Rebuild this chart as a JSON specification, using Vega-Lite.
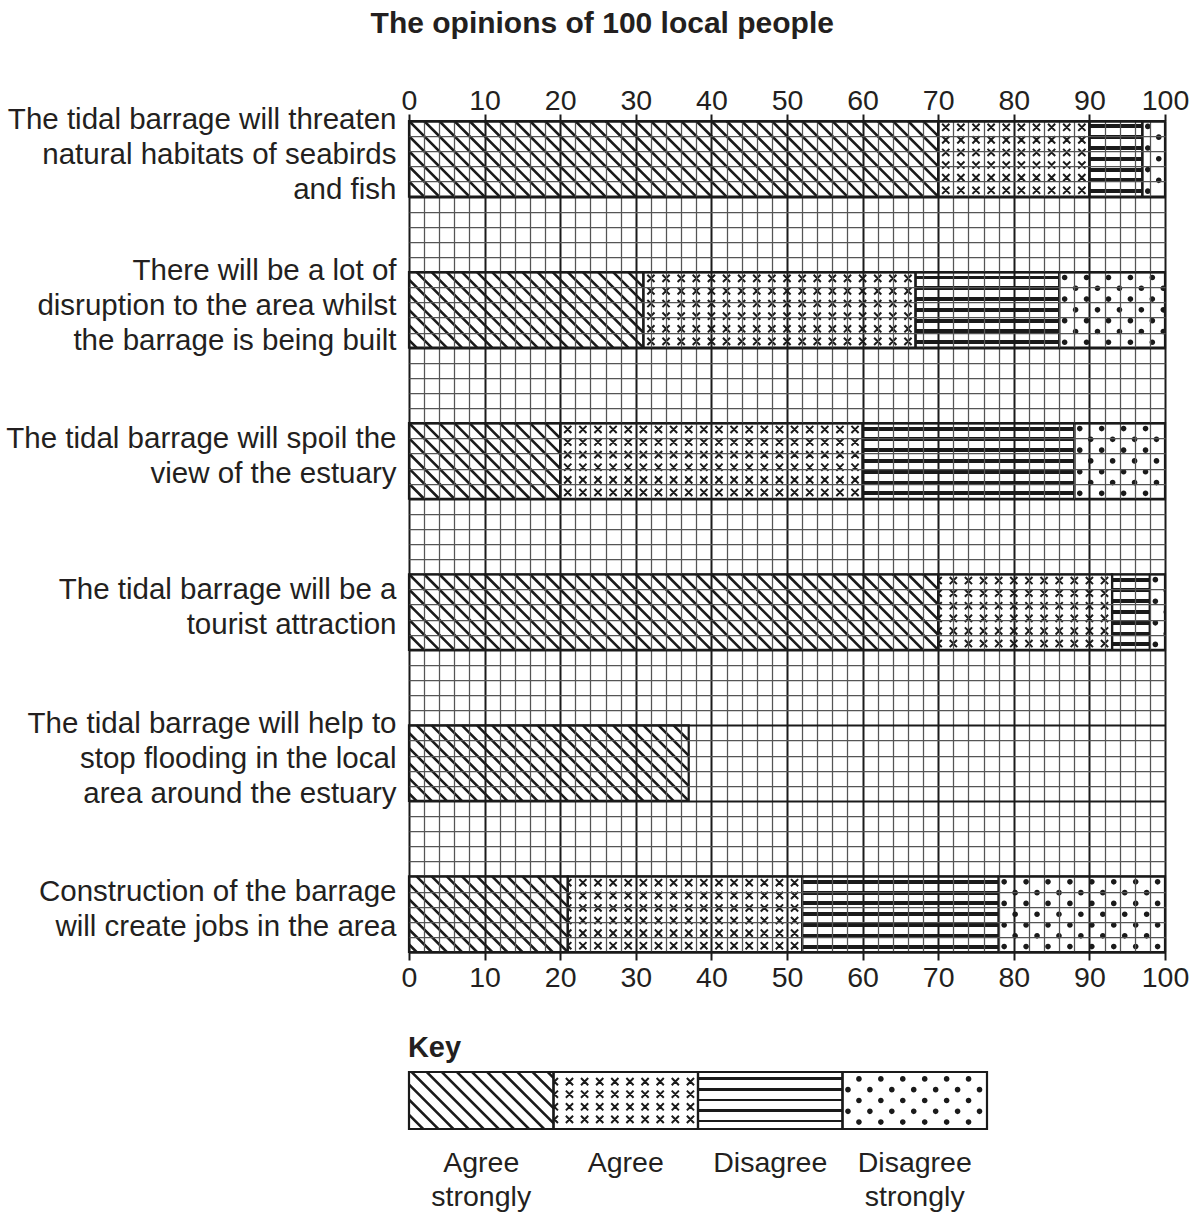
{
  "$schema": "https://vega.github.io/schema/vega-lite/v6.json",
  "padding": {"left": 5, "right": 5, "top": 8, "bottom": 0},
  "config": {
    "font": "Liberation Sans",
    "view": {"stroke": null},
    "title": {"color": "#231f20", "font": "Liberation Sans"},
    "axis": {"labelColor": "#231f20", "labelFont": "Liberation Sans"}
  },
  "title": {"text": "The opinions of 100 local people", "fontSize": 30, "fontWeight": "bold", "anchor": "middle", "offset": 48, "dx": 5},
  "spacing": 41,
  "vconcat": [
    {
      "width": 756,
      "height": 831,
      "data": {"values": [
        {"statement": "The tidal barrage will threaten|natural habitats of seabirds|and fish", "category": "Agree strongly", "value": 70},
        {"statement": "The tidal barrage will threaten|natural habitats of seabirds|and fish", "category": "Agree", "value": 20},
        {"statement": "The tidal barrage will threaten|natural habitats of seabirds|and fish", "category": "Disagree", "value": 7},
        {"statement": "The tidal barrage will threaten|natural habitats of seabirds|and fish", "category": "Disagree strongly", "value": 3},
        {"statement": "There will be a lot of|disruption to the area whilst|the barrage is being built", "category": "Agree strongly", "value": 31},
        {"statement": "There will be a lot of|disruption to the area whilst|the barrage is being built", "category": "Agree", "value": 36},
        {"statement": "There will be a lot of|disruption to the area whilst|the barrage is being built", "category": "Disagree", "value": 19},
        {"statement": "There will be a lot of|disruption to the area whilst|the barrage is being built", "category": "Disagree strongly", "value": 14},
        {"statement": "The tidal barrage will spoil the|view of the estuary", "category": "Agree strongly", "value": 20},
        {"statement": "The tidal barrage will spoil the|view of the estuary", "category": "Agree", "value": 40},
        {"statement": "The tidal barrage will spoil the|view of the estuary", "category": "Disagree", "value": 28},
        {"statement": "The tidal barrage will spoil the|view of the estuary", "category": "Disagree strongly", "value": 12},
        {"statement": "The tidal barrage will be a|tourist attraction", "category": "Agree strongly", "value": 70},
        {"statement": "The tidal barrage will be a|tourist attraction", "category": "Agree", "value": 23},
        {"statement": "The tidal barrage will be a|tourist attraction", "category": "Disagree", "value": 5},
        {"statement": "The tidal barrage will be a|tourist attraction", "category": "Disagree strongly", "value": 2},
        {"statement": "The tidal barrage will help to|stop flooding in the local|area around the estuary", "category": "Agree strongly", "value": 37},
        {"statement": "Construction of the barrage|will create jobs in the area", "category": "Agree strongly", "value": 21},
        {"statement": "Construction of the barrage|will create jobs in the area", "category": "Agree", "value": 31},
        {"statement": "Construction of the barrage|will create jobs in the area", "category": "Disagree", "value": 26},
        {"statement": "Construction of the barrage|will create jobs in the area", "category": "Disagree strongly", "value": 22}
      ]},
      "transform": [{"stack": "value", "groupby": ["statement"], "as": ["x0", "x1"]}],
      "layer": [
        {
          "encoding": {
            "y": {
              "field": "statement", "type": "nominal", "sort": null,
              "scale": {"paddingInner": 0.5, "paddingOuter": 0},
              "axis": {
                "title": null, "labelExpr": "split(datum.label, '|')", "labelFontSize": 29.5, "labelLimit": 450, "labelPadding": 13, "labelLineHeight": 35,
                "labelOffset": {"condition": {"test": "length(split(datum.label, '|')) === 3", "value": -39}, "value": -22},
                "ticks": false, "domain": false, "labelAlign": "right", "labelBaseline": "middle"
              }
            }
          },
          "layer": [
            {
              "mark": {"type": "rect", "fill": "white", "stroke": null},
              "encoding": {
                "x": {
                  "field": "x0", "type": "quantitative",
                  "scale": {"domain": [0, 100], "nice": false, "zero": true},
                  "axis": {
                    "orient": "bottom", "title": null,
                    "values": [0,2,4,6,8,10,12,14,16,18,20,22,24,26,28,30,32,34,36,38,40,42,44,46,48,50,52,54,56,58,60,62,64,66,68,70,72,74,76,78,80,82,84,86,88,90,92,94,96,98,100],
                    "grid": true,
                    "gridColor": {"condition": {"test": "datum.value % 10 === 0", "value": "#1a1a1a"}, "value": "#555555"},
                    "gridWidth": {"condition": {"test": "datum.value % 10 === 0", "value": 2}, "value": 1.25},
                    "labelExpr": "datum.value % 10 === 0 ? datum.label : ''",
                    "labelOverlap": false, "labelBound": false, "labelFlush": false,
                    "labelFontSize": 28.5, "labelPadding": 3,
                    "tickSize": 8, "tickWidth": 2, "tickColor": "#1a1a1a",
                    "tickOpacity": {"condition": {"test": "datum.value % 10 === 0", "value": 1}, "value": 0},
                    "domain": true, "domainColor": "#1a1a1a", "domainWidth": 2,
                    "zindex": 1
                  }
                },
                "x2": {"field": "x1"}
              }
            },
            {
              "transform": [{"filter": "datum.category === 'Agree'"}],
              "mark": {"type": "point", "shape": "M-2.95 -9.283l1.9 1.9m0 -1.9l-1.9 1.9m-4 -1.9l1.9 1.9m0 -1.9l-1.9 1.9m-4 -1.9l1.9 1.9m0 -1.9l-1.9 1.9m-4 -1.9l1.9 1.9m0 -1.9l-1.9 1.9m-4 -1.9l1.9 1.9m0 -1.9l-1.9 1.9m-4 -1.9l1.9 1.9m0 -1.9l-1.9 1.9m-4 -1.9l1.9 1.9m0 -1.9l-1.9 1.9m-4 -1.9l1.9 1.9m0 -1.9l-1.9 1.9m-4 -1.9l1.9 1.9m0 -1.9l-1.9 1.9m-4 -1.9l1.9 1.9m0 -1.9l-1.9 1.9m-4 -1.9l1.9 1.9m0 -1.9l-1.9 1.9m-4 -1.9l1.9 1.9m0 -1.9l-1.9 1.9m-4 -1.9l1.9 1.9m0 -1.9l-1.9 1.9m-4 -1.9l1.9 1.9m0 -1.9l-1.9 1.9m-4 -1.9l1.9 1.9m0 -1.9l-1.9 1.9m-4 -1.9l1.9 1.9m0 -1.9l-1.9 1.9m-4 -1.9l1.9 1.9m0 -1.9l-1.9 1.9m-4 -1.9l1.9 1.9m0 -1.9l-1.9 1.9m-4 -1.9l1.9 1.9m0 -1.9l-1.9 1.9m-4 -1.9l1.9 1.9m0 -1.9l-1.9 1.9m-4 -1.9M-2.95 -5.95l1.9 1.9m0 -1.9l-1.9 1.9m-4 -1.9l1.9 1.9m0 -1.9l-1.9 1.9m-4 -1.9l1.9 1.9m0 -1.9l-1.9 1.9m-4 -1.9l1.9 1.9m0 -1.9l-1.9 1.9m-4 -1.9l1.9 1.9m0 -1.9l-1.9 1.9m-4 -1.9l1.9 1.9m0 -1.9l-1.9 1.9m-4 -1.9l1.9 1.9m0 -1.9l-1.9 1.9m-4 -1.9l1.9 1.9m0 -1.9l-1.9 1.9m-4 -1.9l1.9 1.9m0 -1.9l-1.9 1.9m-4 -1.9l1.9 1.9m0 -1.9l-1.9 1.9m-4 -1.9l1.9 1.9m0 -1.9l-1.9 1.9m-4 -1.9l1.9 1.9m0 -1.9l-1.9 1.9m-4 -1.9l1.9 1.9m0 -1.9l-1.9 1.9m-4 -1.9l1.9 1.9m0 -1.9l-1.9 1.9m-4 -1.9l1.9 1.9m0 -1.9l-1.9 1.9m-4 -1.9l1.9 1.9m0 -1.9l-1.9 1.9m-4 -1.9l1.9 1.9m0 -1.9l-1.9 1.9m-4 -1.9l1.9 1.9m0 -1.9l-1.9 1.9m-4 -1.9l1.9 1.9m0 -1.9l-1.9 1.9m-4 -1.9l1.9 1.9m0 -1.9l-1.9 1.9m-4 -1.9M-2.95 -2.617l1.9 1.9m0 -1.9l-1.9 1.9m-4 -1.9l1.9 1.9m0 -1.9l-1.9 1.9m-4 -1.9l1.9 1.9m0 -1.9l-1.9 1.9m-4 -1.9l1.9 1.9m0 -1.9l-1.9 1.9m-4 -1.9l1.9 1.9m0 -1.9l-1.9 1.9m-4 -1.9l1.9 1.9m0 -1.9l-1.9 1.9m-4 -1.9l1.9 1.9m0 -1.9l-1.9 1.9m-4 -1.9l1.9 1.9m0 -1.9l-1.9 1.9m-4 -1.9l1.9 1.9m0 -1.9l-1.9 1.9m-4 -1.9l1.9 1.9m0 -1.9l-1.9 1.9m-4 -1.9l1.9 1.9m0 -1.9l-1.9 1.9m-4 -1.9l1.9 1.9m0 -1.9l-1.9 1.9m-4 -1.9l1.9 1.9m0 -1.9l-1.9 1.9m-4 -1.9l1.9 1.9m0 -1.9l-1.9 1.9m-4 -1.9l1.9 1.9m0 -1.9l-1.9 1.9m-4 -1.9l1.9 1.9m0 -1.9l-1.9 1.9m-4 -1.9l1.9 1.9m0 -1.9l-1.9 1.9m-4 -1.9l1.9 1.9m0 -1.9l-1.9 1.9m-4 -1.9l1.9 1.9m0 -1.9l-1.9 1.9m-4 -1.9l1.9 1.9m0 -1.9l-1.9 1.9m-4 -1.9M-2.95 0.717l1.9 1.9m0 -1.9l-1.9 1.9m-4 -1.9l1.9 1.9m0 -1.9l-1.9 1.9m-4 -1.9l1.9 1.9m0 -1.9l-1.9 1.9m-4 -1.9l1.9 1.9m0 -1.9l-1.9 1.9m-4 -1.9l1.9 1.9m0 -1.9l-1.9 1.9m-4 -1.9l1.9 1.9m0 -1.9l-1.9 1.9m-4 -1.9l1.9 1.9m0 -1.9l-1.9 1.9m-4 -1.9l1.9 1.9m0 -1.9l-1.9 1.9m-4 -1.9l1.9 1.9m0 -1.9l-1.9 1.9m-4 -1.9l1.9 1.9m0 -1.9l-1.9 1.9m-4 -1.9l1.9 1.9m0 -1.9l-1.9 1.9m-4 -1.9l1.9 1.9m0 -1.9l-1.9 1.9m-4 -1.9l1.9 1.9m0 -1.9l-1.9 1.9m-4 -1.9l1.9 1.9m0 -1.9l-1.9 1.9m-4 -1.9l1.9 1.9m0 -1.9l-1.9 1.9m-4 -1.9l1.9 1.9m0 -1.9l-1.9 1.9m-4 -1.9l1.9 1.9m0 -1.9l-1.9 1.9m-4 -1.9l1.9 1.9m0 -1.9l-1.9 1.9m-4 -1.9l1.9 1.9m0 -1.9l-1.9 1.9m-4 -1.9l1.9 1.9m0 -1.9l-1.9 1.9m-4 -1.9M-2.95 4.05l1.9 1.9m0 -1.9l-1.9 1.9m-4 -1.9l1.9 1.9m0 -1.9l-1.9 1.9m-4 -1.9l1.9 1.9m0 -1.9l-1.9 1.9m-4 -1.9l1.9 1.9m0 -1.9l-1.9 1.9m-4 -1.9l1.9 1.9m0 -1.9l-1.9 1.9m-4 -1.9l1.9 1.9m0 -1.9l-1.9 1.9m-4 -1.9l1.9 1.9m0 -1.9l-1.9 1.9m-4 -1.9l1.9 1.9m0 -1.9l-1.9 1.9m-4 -1.9l1.9 1.9m0 -1.9l-1.9 1.9m-4 -1.9l1.9 1.9m0 -1.9l-1.9 1.9m-4 -1.9l1.9 1.9m0 -1.9l-1.9 1.9m-4 -1.9l1.9 1.9m0 -1.9l-1.9 1.9m-4 -1.9l1.9 1.9m0 -1.9l-1.9 1.9m-4 -1.9l1.9 1.9m0 -1.9l-1.9 1.9m-4 -1.9l1.9 1.9m0 -1.9l-1.9 1.9m-4 -1.9l1.9 1.9m0 -1.9l-1.9 1.9m-4 -1.9l1.9 1.9m0 -1.9l-1.9 1.9m-4 -1.9l1.9 1.9m0 -1.9l-1.9 1.9m-4 -1.9l1.9 1.9m0 -1.9l-1.9 1.9m-4 -1.9l1.9 1.9m0 -1.9l-1.9 1.9m-4 -1.9M-2.95 7.383l1.9 1.9m0 -1.9l-1.9 1.9m-4 -1.9l1.9 1.9m0 -1.9l-1.9 1.9m-4 -1.9l1.9 1.9m0 -1.9l-1.9 1.9m-4 -1.9l1.9 1.9m0 -1.9l-1.9 1.9m-4 -1.9l1.9 1.9m0 -1.9l-1.9 1.9m-4 -1.9l1.9 1.9m0 -1.9l-1.9 1.9m-4 -1.9l1.9 1.9m0 -1.9l-1.9 1.9m-4 -1.9l1.9 1.9m0 -1.9l-1.9 1.9m-4 -1.9l1.9 1.9m0 -1.9l-1.9 1.9m-4 -1.9l1.9 1.9m0 -1.9l-1.9 1.9m-4 -1.9l1.9 1.9m0 -1.9l-1.9 1.9m-4 -1.9l1.9 1.9m0 -1.9l-1.9 1.9m-4 -1.9l1.9 1.9m0 -1.9l-1.9 1.9m-4 -1.9l1.9 1.9m0 -1.9l-1.9 1.9m-4 -1.9l1.9 1.9m0 -1.9l-1.9 1.9m-4 -1.9l1.9 1.9m0 -1.9l-1.9 1.9m-4 -1.9l1.9 1.9m0 -1.9l-1.9 1.9m-4 -1.9l1.9 1.9m0 -1.9l-1.9 1.9m-4 -1.9l1.9 1.9m0 -1.9l-1.9 1.9m-4 -1.9l1.9 1.9m0 -1.9l-1.9 1.9m-4 -1.9", "size": 57.15, "filled": false, "stroke": "#1a1a1a", "strokeWidth": 2, "opacity": 1, "clip": true},
              "encoding": {"x": {"field": "x1", "type": "quantitative", "axis": null}}
            },
            {
              "transform": [{"filter": "datum.category === 'Agree strongly'"}],
              "mark": {"type": "rect", "fill": "white", "stroke": null},
              "encoding": {"x": {"field": "x0", "type": "quantitative", "axis": null}, "x2": {"field": "x1"}}
            },
            {
              "transform": [{"filter": "datum.category === 'Agree strongly'"}],
              "mark": {"type": "point", "shape": "M-4 -10l4 4M-8 -10l8 8M-12 -10l12 12M-16 -10l16 16M-20 -10l20 20M-24 -10l20 20M-28 -10l20 20M-32 -10l20 20M-36 -10l20 20M-40 -10l20 20M-44 -10l20 20M-48 -10l20 20M-52 -10l20 20M-56 -10l20 20M-60 -10l20 20M-64 -10l20 20M-68 -10l20 20M-72 -10l20 20M-76 -10l20 20M-80 -10l20 20M-84 -10l20 20M-88 -10l20 20M-92 -10l20 20M-96 -10l20 20M-100 -10l20 20M-104 -10l20 20M-108 -10l20 20M-112 -10l20 20M-116 -10l20 20M-120 -10l20 20M-124 -10l20 20M-128 -10l20 20M-132 -10l20 20M-136 -10l20 20M-140 -10l20 20M-144 -10l20 20M-148 -10l20 20M-152 -10l20 20M-156 -10l20 20M-160 -10l20 20M-164 -10l20 20M-168 -10l20 20", "size": 57.15, "filled": false, "stroke": "#1a1a1a", "strokeWidth": 2.6, "opacity": 1, "clip": true},
              "encoding": {"x": {"field": "x1", "type": "quantitative", "axis": null}}
            },
            {
              "transform": [{"filter": "datum.category === 'Disagree'"}],
              "mark": {"type": "rect", "stroke": null, "fill": {"gradient": "linear", "x1": 0, "y1": 0, "x2": 0, "y2": 1, "stops": [
                {"offset": 0, "color": "white"},
                {"offset": 0.0454, "color": "white"}, {"offset": 0.0454, "color": "#1a1a1a"}, {"offset": 0.0974, "color": "#1a1a1a"}, {"offset": 0.0974, "color": "white"},
                {"offset": 0.1883, "color": "white"}, {"offset": 0.1883, "color": "#1a1a1a"}, {"offset": 0.2403, "color": "#1a1a1a"}, {"offset": 0.2403, "color": "white"},
                {"offset": 0.3311, "color": "white"}, {"offset": 0.3311, "color": "#1a1a1a"}, {"offset": 0.3831, "color": "#1a1a1a"}, {"offset": 0.3831, "color": "white"},
                {"offset": 0.474, "color": "white"}, {"offset": 0.474, "color": "#1a1a1a"}, {"offset": 0.526, "color": "#1a1a1a"}, {"offset": 0.526, "color": "white"},
                {"offset": 0.6169, "color": "white"}, {"offset": 0.6169, "color": "#1a1a1a"}, {"offset": 0.6689, "color": "#1a1a1a"}, {"offset": 0.6689, "color": "white"},
                {"offset": 0.7597, "color": "white"}, {"offset": 0.7597, "color": "#1a1a1a"}, {"offset": 0.8117, "color": "#1a1a1a"}, {"offset": 0.8117, "color": "white"},
                {"offset": 0.9026, "color": "white"}, {"offset": 0.9026, "color": "#1a1a1a"}, {"offset": 0.9546, "color": "#1a1a1a"}, {"offset": 0.9546, "color": "white"},
                {"offset": 1, "color": "white"}
              ]}},
              "encoding": {"x": {"field": "x0", "type": "quantitative", "axis": null}, "x2": {"field": "x1"}}
            },
            {
              "transform": [{"filter": "datum.category === 'Disagree strongly'"}],
              "mark": {"type": "point", "shape": "M0.7 -8.571a0.75 0.75 0 1 0 1.5 0a0.75 0.75 0 1 0 -1.5 0m5.8 0a0.75 0.75 0 1 0 1.5 0a0.75 0.75 0 1 0 -1.5 0m5.8 0a0.75 0.75 0 1 0 1.5 0a0.75 0.75 0 1 0 -1.5 0m5.8 0a0.75 0.75 0 1 0 1.5 0a0.75 0.75 0 1 0 -1.5 0m5.8 0a0.75 0.75 0 1 0 1.5 0a0.75 0.75 0 1 0 -1.5 0m5.8 0a0.75 0.75 0 1 0 1.5 0a0.75 0.75 0 1 0 -1.5 0m5.8 0a0.75 0.75 0 1 0 1.5 0a0.75 0.75 0 1 0 -1.5 0m5.8 0a0.75 0.75 0 1 0 1.5 0a0.75 0.75 0 1 0 -1.5 0m5.8 0a0.75 0.75 0 1 0 1.5 0a0.75 0.75 0 1 0 -1.5 0m5.8 0M3.6 -5.714a0.75 0.75 0 1 0 1.5 0a0.75 0.75 0 1 0 -1.5 0m5.8 0a0.75 0.75 0 1 0 1.5 0a0.75 0.75 0 1 0 -1.5 0m5.8 0a0.75 0.75 0 1 0 1.5 0a0.75 0.75 0 1 0 -1.5 0m5.8 0a0.75 0.75 0 1 0 1.5 0a0.75 0.75 0 1 0 -1.5 0m5.8 0a0.75 0.75 0 1 0 1.5 0a0.75 0.75 0 1 0 -1.5 0m5.8 0a0.75 0.75 0 1 0 1.5 0a0.75 0.75 0 1 0 -1.5 0m5.8 0a0.75 0.75 0 1 0 1.5 0a0.75 0.75 0 1 0 -1.5 0m5.8 0a0.75 0.75 0 1 0 1.5 0a0.75 0.75 0 1 0 -1.5 0m5.8 0a0.75 0.75 0 1 0 1.5 0a0.75 0.75 0 1 0 -1.5 0m5.8 0M0.7 -2.857a0.75 0.75 0 1 0 1.5 0a0.75 0.75 0 1 0 -1.5 0m5.8 0a0.75 0.75 0 1 0 1.5 0a0.75 0.75 0 1 0 -1.5 0m5.8 0a0.75 0.75 0 1 0 1.5 0a0.75 0.75 0 1 0 -1.5 0m5.8 0a0.75 0.75 0 1 0 1.5 0a0.75 0.75 0 1 0 -1.5 0m5.8 0a0.75 0.75 0 1 0 1.5 0a0.75 0.75 0 1 0 -1.5 0m5.8 0a0.75 0.75 0 1 0 1.5 0a0.75 0.75 0 1 0 -1.5 0m5.8 0a0.75 0.75 0 1 0 1.5 0a0.75 0.75 0 1 0 -1.5 0m5.8 0a0.75 0.75 0 1 0 1.5 0a0.75 0.75 0 1 0 -1.5 0m5.8 0a0.75 0.75 0 1 0 1.5 0a0.75 0.75 0 1 0 -1.5 0m5.8 0M3.6 0a0.75 0.75 0 1 0 1.5 0a0.75 0.75 0 1 0 -1.5 0m5.8 0a0.75 0.75 0 1 0 1.5 0a0.75 0.75 0 1 0 -1.5 0m5.8 0a0.75 0.75 0 1 0 1.5 0a0.75 0.75 0 1 0 -1.5 0m5.8 0a0.75 0.75 0 1 0 1.5 0a0.75 0.75 0 1 0 -1.5 0m5.8 0a0.75 0.75 0 1 0 1.5 0a0.75 0.75 0 1 0 -1.5 0m5.8 0a0.75 0.75 0 1 0 1.5 0a0.75 0.75 0 1 0 -1.5 0m5.8 0a0.75 0.75 0 1 0 1.5 0a0.75 0.75 0 1 0 -1.5 0m5.8 0a0.75 0.75 0 1 0 1.5 0a0.75 0.75 0 1 0 -1.5 0m5.8 0a0.75 0.75 0 1 0 1.5 0a0.75 0.75 0 1 0 -1.5 0m5.8 0M0.7 2.857a0.75 0.75 0 1 0 1.5 0a0.75 0.75 0 1 0 -1.5 0m5.8 0a0.75 0.75 0 1 0 1.5 0a0.75 0.75 0 1 0 -1.5 0m5.8 0a0.75 0.75 0 1 0 1.5 0a0.75 0.75 0 1 0 -1.5 0m5.8 0a0.75 0.75 0 1 0 1.5 0a0.75 0.75 0 1 0 -1.5 0m5.8 0a0.75 0.75 0 1 0 1.5 0a0.75 0.75 0 1 0 -1.5 0m5.8 0a0.75 0.75 0 1 0 1.5 0a0.75 0.75 0 1 0 -1.5 0m5.8 0a0.75 0.75 0 1 0 1.5 0a0.75 0.75 0 1 0 -1.5 0m5.8 0a0.75 0.75 0 1 0 1.5 0a0.75 0.75 0 1 0 -1.5 0m5.8 0a0.75 0.75 0 1 0 1.5 0a0.75 0.75 0 1 0 -1.5 0m5.8 0M3.6 5.714a0.75 0.75 0 1 0 1.5 0a0.75 0.75 0 1 0 -1.5 0m5.8 0a0.75 0.75 0 1 0 1.5 0a0.75 0.75 0 1 0 -1.5 0m5.8 0a0.75 0.75 0 1 0 1.5 0a0.75 0.75 0 1 0 -1.5 0m5.8 0a0.75 0.75 0 1 0 1.5 0a0.75 0.75 0 1 0 -1.5 0m5.8 0a0.75 0.75 0 1 0 1.5 0a0.75 0.75 0 1 0 -1.5 0m5.8 0a0.75 0.75 0 1 0 1.5 0a0.75 0.75 0 1 0 -1.5 0m5.8 0a0.75 0.75 0 1 0 1.5 0a0.75 0.75 0 1 0 -1.5 0m5.8 0a0.75 0.75 0 1 0 1.5 0a0.75 0.75 0 1 0 -1.5 0m5.8 0a0.75 0.75 0 1 0 1.5 0a0.75 0.75 0 1 0 -1.5 0m5.8 0M0.7 8.571a0.75 0.75 0 1 0 1.5 0a0.75 0.75 0 1 0 -1.5 0m5.8 0a0.75 0.75 0 1 0 1.5 0a0.75 0.75 0 1 0 -1.5 0m5.8 0a0.75 0.75 0 1 0 1.5 0a0.75 0.75 0 1 0 -1.5 0m5.8 0a0.75 0.75 0 1 0 1.5 0a0.75 0.75 0 1 0 -1.5 0m5.8 0a0.75 0.75 0 1 0 1.5 0a0.75 0.75 0 1 0 -1.5 0m5.8 0a0.75 0.75 0 1 0 1.5 0a0.75 0.75 0 1 0 -1.5 0m5.8 0a0.75 0.75 0 1 0 1.5 0a0.75 0.75 0 1 0 -1.5 0m5.8 0a0.75 0.75 0 1 0 1.5 0a0.75 0.75 0 1 0 -1.5 0m5.8 0a0.75 0.75 0 1 0 1.5 0a0.75 0.75 0 1 0 -1.5 0m5.8 0", "size": 57.15, "filled": true, "fill": "#1a1a1a", "strokeWidth": 0, "opacity": 1, "clip": true},
              "encoding": {"x": {"field": "x0", "type": "quantitative", "axis": null}}
            },
            {
              "mark": {"type": "rect", "fill": "white", "fillOpacity": 0, "stroke": "#1a1a1a", "strokeWidth": 2.2},
              "encoding": {
                "x": {
                  "field": "x0", "type": "quantitative",
                  "axis": {
                    "orient": "top", "title": null,
                    "values": [0,10,20,30,40,50,60,70,80,90,100],
                    "grid": false, "labelOverlap": false, "labelFlush": false, "labelBound": false,
                    "labelFontSize": 28.5, "labelPadding": -1.5,
                    "tickSize": 7, "tickWidth": 2, "tickColor": "#1a1a1a",
                    "domain": true, "domainColor": "#1a1a1a", "domainWidth": 2,
                    "zindex": 1
                  }
                },
                "x2": {"field": "x1"}
              }
            }
          ],
          "resolve": {"axis": {"x": "independent"}}
        },
        {
          "mark": {"type": "rule", "strokeOpacity": 0},
          "encoding": {
            "y": {
              "datum": 0, "type": "quantitative",
              "scale": {"domain": [0, 55], "nice": false, "zero": false},
              "axis": {
                "orient": "right", "title": null, "labels": false, "ticks": false, "domain": false,
                "values": [0,1,2,3,4,5,6,7,8,9,10,11,12,13,14,15,16,17,18,19,20,21,22,23,24,25,26,27,28,29,30,31,32,33,34,35,36,37,38,39,40,41,42,43,44,45,46,47,48,49,50,51,52,53,54,55],
                "grid": true,
                "gridColor": {"condition": {"test": "datum.value % 5 === 0", "value": "#1a1a1a"}, "value": "#555555"},
                "gridWidth": {"condition": {"test": "datum.value % 5 === 0", "value": 2}, "value": 1.25},
                "zindex": 1
              }
            }
          }
        }
      ],
      "resolve": {"scale": {"y": "independent"}}
    },
    {
      "spacing": 18,
      "vconcat": [
        {
          "width": 578,
          "height": 57,
          "title": {"text": "Key", "anchor": "start", "fontSize": 29, "fontWeight": "bold", "offset": 8},
          "data": {"values": [
            {"category": "Agree strongly"},
            {"category": "Agree"},
            {"category": "Disagree"},
            {"category": "Disagree strongly"}
          ]},
          "encoding": {
            "x": {
              "field": "category", "type": "nominal", "sort": null,
              "scale": {"type": "band", "paddingInner": 0, "paddingOuter": 0},
              "axis": null
            }
          },
          "layer": [
            {
              "mark": {"type": "rect", "fill": "white", "stroke": null}
            },
            {
              "transform": [{"filter": "datum.category === 'Agree'"}],
              "mark": {"type": "point", "shape": "M-2.95 -5.95l1.9 1.9m0 -1.9l-1.9 1.9m-4 -1.9l1.9 1.9m0 -1.9l-1.9 1.9m-4 -1.9l1.9 1.9m0 -1.9l-1.9 1.9m-4 -1.9l1.9 1.9m0 -1.9l-1.9 1.9m-4 -1.9l1.9 1.9m0 -1.9l-1.9 1.9m-4 -1.9l1.9 1.9m0 -1.9l-1.9 1.9m-4 -1.9l1.9 1.9m0 -1.9l-1.9 1.9m-4 -1.9l1.9 1.9m0 -1.9l-1.9 1.9m-4 -1.9l1.9 1.9m0 -1.9l-1.9 1.9m-4 -1.9l1.9 1.9m0 -1.9l-1.9 1.9m-4 -1.9M-2.95 -2.617l1.9 1.9m0 -1.9l-1.9 1.9m-4 -1.9l1.9 1.9m0 -1.9l-1.9 1.9m-4 -1.9l1.9 1.9m0 -1.9l-1.9 1.9m-4 -1.9l1.9 1.9m0 -1.9l-1.9 1.9m-4 -1.9l1.9 1.9m0 -1.9l-1.9 1.9m-4 -1.9l1.9 1.9m0 -1.9l-1.9 1.9m-4 -1.9l1.9 1.9m0 -1.9l-1.9 1.9m-4 -1.9l1.9 1.9m0 -1.9l-1.9 1.9m-4 -1.9l1.9 1.9m0 -1.9l-1.9 1.9m-4 -1.9l1.9 1.9m0 -1.9l-1.9 1.9m-4 -1.9M-2.95 0.717l1.9 1.9m0 -1.9l-1.9 1.9m-4 -1.9l1.9 1.9m0 -1.9l-1.9 1.9m-4 -1.9l1.9 1.9m0 -1.9l-1.9 1.9m-4 -1.9l1.9 1.9m0 -1.9l-1.9 1.9m-4 -1.9l1.9 1.9m0 -1.9l-1.9 1.9m-4 -1.9l1.9 1.9m0 -1.9l-1.9 1.9m-4 -1.9l1.9 1.9m0 -1.9l-1.9 1.9m-4 -1.9l1.9 1.9m0 -1.9l-1.9 1.9m-4 -1.9l1.9 1.9m0 -1.9l-1.9 1.9m-4 -1.9l1.9 1.9m0 -1.9l-1.9 1.9m-4 -1.9M-2.95 4.05l1.9 1.9m0 -1.9l-1.9 1.9m-4 -1.9l1.9 1.9m0 -1.9l-1.9 1.9m-4 -1.9l1.9 1.9m0 -1.9l-1.9 1.9m-4 -1.9l1.9 1.9m0 -1.9l-1.9 1.9m-4 -1.9l1.9 1.9m0 -1.9l-1.9 1.9m-4 -1.9l1.9 1.9m0 -1.9l-1.9 1.9m-4 -1.9l1.9 1.9m0 -1.9l-1.9 1.9m-4 -1.9l1.9 1.9m0 -1.9l-1.9 1.9m-4 -1.9l1.9 1.9m0 -1.9l-1.9 1.9m-4 -1.9l1.9 1.9m0 -1.9l-1.9 1.9m-4 -1.9", "size": 57.15, "filled": false, "stroke": "#1a1a1a", "strokeWidth": 2, "opacity": 1, "clip": true},
              "encoding": {"x": {"field": "category", "type": "nominal", "sort": null, "bandPosition": 1, "axis": null}}
            },
            {
              "transform": [{"filter": "datum.category === 'Agree strongly'"}],
              "mark": {"type": "rect", "fill": "white", "stroke": null}
            },
            {
              "transform": [{"filter": "datum.category === 'Agree strongly'"}],
              "mark": {"type": "point", "shape": "M-4 -10l4 4M-8 -10l8 8M-12 -10l12 12M-16 -10l16 16M-20 -10l20 20M-24 -10l20 20M-28 -10l20 20M-32 -10l20 20M-36 -10l20 20M-40 -10l20 20M-44 -10l20 20M-48 -10l20 20M-52 -10l20 20M-56 -10l20 20", "size": 57.15, "filled": false, "stroke": "#1a1a1a", "strokeWidth": 2.6, "opacity": 1, "clip": true},
              "encoding": {"x": {"field": "category", "type": "nominal", "sort": null, "bandPosition": 1, "axis": null}}
            },
            {
              "transform": [{"filter": "datum.category === 'Disagree'"}],
              "mark": {"type": "rect", "stroke": null, "fill": {"gradient": "linear", "x1": 0, "y1": 0, "x2": 0, "y2": 1, "stops": [
                {"offset": 0, "color": "white"},
                {"offset": 0.095, "color": "white"}, {"offset": 0.095, "color": "#1a1a1a"}, {"offset": 0.145, "color": "#1a1a1a"}, {"offset": 0.145, "color": "white"},
                {"offset": 0.28, "color": "white"}, {"offset": 0.28, "color": "#1a1a1a"}, {"offset": 0.33, "color": "#1a1a1a"}, {"offset": 0.33, "color": "white"},
                {"offset": 0.465, "color": "white"}, {"offset": 0.465, "color": "#1a1a1a"}, {"offset": 0.515, "color": "#1a1a1a"}, {"offset": 0.515, "color": "white"},
                {"offset": 0.65, "color": "white"}, {"offset": 0.65, "color": "#1a1a1a"}, {"offset": 0.7, "color": "#1a1a1a"}, {"offset": 0.7, "color": "white"},
                {"offset": 0.835, "color": "white"}, {"offset": 0.835, "color": "#1a1a1a"}, {"offset": 0.885, "color": "#1a1a1a"}, {"offset": 0.885, "color": "white"},
                {"offset": 1, "color": "white"}
              ]}}
            },
            {
              "transform": [{"filter": "datum.category === 'Disagree strongly'"}],
              "mark": {"type": "point", "shape": "M3.6 -5.714a0.75 0.75 0 1 0 1.5 0a0.75 0.75 0 1 0 -1.5 0m5.8 0a0.75 0.75 0 1 0 1.5 0a0.75 0.75 0 1 0 -1.5 0m5.8 0a0.75 0.75 0 1 0 1.5 0a0.75 0.75 0 1 0 -1.5 0m5.8 0a0.75 0.75 0 1 0 1.5 0a0.75 0.75 0 1 0 -1.5 0m5.8 0a0.75 0.75 0 1 0 1.5 0a0.75 0.75 0 1 0 -1.5 0m5.8 0a0.75 0.75 0 1 0 1.5 0a0.75 0.75 0 1 0 -1.5 0m5.8 0a0.75 0.75 0 1 0 1.5 0a0.75 0.75 0 1 0 -1.5 0m5.8 0M0.7 -2.857a0.75 0.75 0 1 0 1.5 0a0.75 0.75 0 1 0 -1.5 0m5.8 0a0.75 0.75 0 1 0 1.5 0a0.75 0.75 0 1 0 -1.5 0m5.8 0a0.75 0.75 0 1 0 1.5 0a0.75 0.75 0 1 0 -1.5 0m5.8 0a0.75 0.75 0 1 0 1.5 0a0.75 0.75 0 1 0 -1.5 0m5.8 0a0.75 0.75 0 1 0 1.5 0a0.75 0.75 0 1 0 -1.5 0m5.8 0a0.75 0.75 0 1 0 1.5 0a0.75 0.75 0 1 0 -1.5 0m5.8 0a0.75 0.75 0 1 0 1.5 0a0.75 0.75 0 1 0 -1.5 0m5.8 0M3.6 0a0.75 0.75 0 1 0 1.5 0a0.75 0.75 0 1 0 -1.5 0m5.8 0a0.75 0.75 0 1 0 1.5 0a0.75 0.75 0 1 0 -1.5 0m5.8 0a0.75 0.75 0 1 0 1.5 0a0.75 0.75 0 1 0 -1.5 0m5.8 0a0.75 0.75 0 1 0 1.5 0a0.75 0.75 0 1 0 -1.5 0m5.8 0a0.75 0.75 0 1 0 1.5 0a0.75 0.75 0 1 0 -1.5 0m5.8 0a0.75 0.75 0 1 0 1.5 0a0.75 0.75 0 1 0 -1.5 0m5.8 0a0.75 0.75 0 1 0 1.5 0a0.75 0.75 0 1 0 -1.5 0m5.8 0M0.7 2.857a0.75 0.75 0 1 0 1.5 0a0.75 0.75 0 1 0 -1.5 0m5.8 0a0.75 0.75 0 1 0 1.5 0a0.75 0.75 0 1 0 -1.5 0m5.8 0a0.75 0.75 0 1 0 1.5 0a0.75 0.75 0 1 0 -1.5 0m5.8 0a0.75 0.75 0 1 0 1.5 0a0.75 0.75 0 1 0 -1.5 0m5.8 0a0.75 0.75 0 1 0 1.5 0a0.75 0.75 0 1 0 -1.5 0m5.8 0a0.75 0.75 0 1 0 1.5 0a0.75 0.75 0 1 0 -1.5 0m5.8 0a0.75 0.75 0 1 0 1.5 0a0.75 0.75 0 1 0 -1.5 0m5.8 0M3.6 5.714a0.75 0.75 0 1 0 1.5 0a0.75 0.75 0 1 0 -1.5 0m5.8 0a0.75 0.75 0 1 0 1.5 0a0.75 0.75 0 1 0 -1.5 0m5.8 0a0.75 0.75 0 1 0 1.5 0a0.75 0.75 0 1 0 -1.5 0m5.8 0a0.75 0.75 0 1 0 1.5 0a0.75 0.75 0 1 0 -1.5 0m5.8 0a0.75 0.75 0 1 0 1.5 0a0.75 0.75 0 1 0 -1.5 0m5.8 0a0.75 0.75 0 1 0 1.5 0a0.75 0.75 0 1 0 -1.5 0m5.8 0a0.75 0.75 0 1 0 1.5 0a0.75 0.75 0 1 0 -1.5 0m5.8 0", "size": 57.15, "filled": true, "fill": "#1a1a1a", "strokeWidth": 0, "opacity": 1, "clip": true},
              "encoding": {"x": {"field": "category", "type": "nominal", "sort": null, "bandPosition": 0, "axis": null}}
            },
            {
              "mark": {"type": "rect", "fill": "white", "fillOpacity": 0, "stroke": "#1a1a1a", "strokeWidth": 2.2}
            }
          ]
        },
        {
          "width": 578,
          "height": 20,
          "data": {"values": [
            {"category": "Agree strongly"},
            {"category": "Agree"},
            {"category": "Disagree"},
            {"category": "Disagree strongly"}
          ]},
          "mark": {"type": "text", "lineBreak": " ", "fontSize": 28.5, "baseline": "middle", "align": "center", "lineHeight": 34, "color": "#231f20", "font": "Liberation Sans"},
          "encoding": {
            "x": {"field": "category", "type": "nominal", "sort": null, "scale": {"type": "band", "paddingInner": 0, "paddingOuter": 0}, "axis": null},
            "text": {"field": "category"}
          }
        }
      ]
    }
  ]
}
